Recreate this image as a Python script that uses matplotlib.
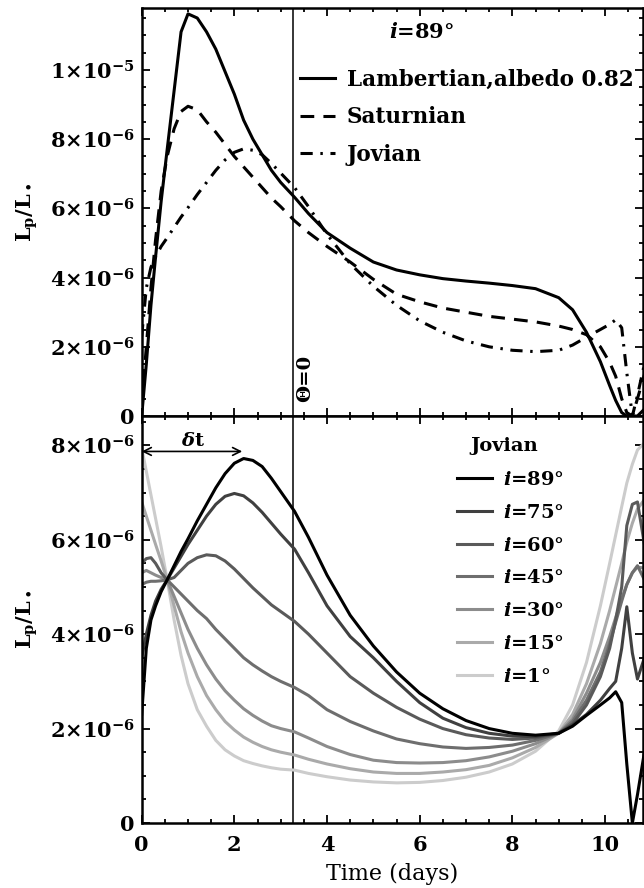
import matplotlib.pyplot as plt
from matplotlib.ticker import MultipleLocator, FixedLocator

plt.rcParams['font.family'] = 'DejaVu Serif'
plt.rcParams['font.weight'] = 'bold'
plt.rcParams['mathtext.fontset'] = 'dejavuserif'

# time grid (days), values in units of 1e-6 L_p/L_*
t = [0, 0.1, 0.2, 0.3, 0.42, 0.55, 0.7, 0.85, 1.0, 1.2, 1.4, 1.6, 1.8, 2.0, 2.2, 2.4,
     2.6, 2.8, 3.0, 3.3, 3.6, 4.0, 4.5, 5.0, 5.5, 6.0, 6.5, 7.0, 7.5, 8.0, 8.5, 9.0,
     9.3, 9.6, 9.9, 10.1, 10.23, 10.36, 10.47, 10.59, 10.7, 10.85]

lambert = [0.0, 1.5, 3.2, 4.6, 6.2, 7.7, 9.4, 11.1, 11.62, 11.5, 11.1, 10.6, 9.95, 9.3, 8.55, 8.0,
           7.55, 7.1, 6.75, 6.32, 5.85, 5.3, 4.85, 4.45, 4.22, 4.08, 3.97, 3.9, 3.84, 3.77, 3.68, 3.42,
           3.07, 2.42, 1.57, 0.88, 0.45, 0.1, 0.0, 0.0, 0.0, 0.2]
saturn = [0.3, 2.0, 3.7, 5.1, 6.5, 7.5, 8.3, 8.8, 8.95, 8.85, 8.5, 8.2, 7.85, 7.5, 7.2, 6.9,
          6.6, 6.3, 6.05, 5.64, 5.3, 4.9, 4.45, 3.95, 3.52, 3.3, 3.12, 3.0, 2.88, 2.8, 2.72, 2.6,
          2.5, 2.35, 2.0, 1.55, 1.15, 0.5, 0.1, 0.0, 0.5, 1.2]

# Jovian phase function, several inclinations
jov89 = [2.3, 3.7, 4.3, 4.6, 4.9, 5.15, 5.45, 5.75, 6.02, 6.4, 6.75, 7.1, 7.4, 7.62, 7.72, 7.68,
         7.55, 7.3, 7.02, 6.6, 6.05, 5.25, 4.4, 3.75, 3.2, 2.75, 2.42, 2.17, 2.0, 1.9, 1.86, 1.9,
         2.05, 2.28, 2.5, 2.65, 2.78, 2.55, 1.25, 0.0, 0.6, 1.5]
jov75 = [3.5, 4.0, 4.4, 4.7, 4.95, 5.15, 5.4, 5.65, 5.9, 6.2, 6.5, 6.75, 6.92, 6.98, 6.93, 6.78,
         6.58, 6.35, 6.12, 5.8, 5.3, 4.6, 3.95, 3.5, 3.0, 2.55, 2.22, 2.02, 1.9, 1.84, 1.83, 1.9,
         2.08, 2.3, 2.6, 2.85, 3.0, 3.7, 4.58, 3.6, 3.05, 3.5]
jov60 = [5.5, 5.6, 5.62, 5.5, 5.3, 5.15, 5.2, 5.35, 5.5, 5.62, 5.68, 5.66, 5.55, 5.38, 5.18, 4.98,
         4.8, 4.62, 4.48, 4.27, 4.0, 3.6, 3.1, 2.75, 2.45, 2.2, 2.0, 1.87, 1.8, 1.77, 1.8, 1.9,
         2.1, 2.5, 3.1, 3.7, 4.3, 5.0, 6.3, 6.75, 6.8, 5.9]
jov45 = [5.05, 5.1, 5.12, 5.12, 5.13, 5.15, 5.0, 4.85, 4.7, 4.5, 4.33, 4.1, 3.9, 3.7, 3.5, 3.35,
         3.22, 3.1, 3.0, 2.87, 2.7, 2.4, 2.15, 1.95, 1.78, 1.68, 1.61, 1.58, 1.6, 1.65, 1.75, 1.9,
         2.15, 2.6, 3.2, 3.8, 4.25, 4.7, 5.05, 5.3, 5.45, 5.15]
jov30 = [5.3, 5.35, 5.3, 5.25, 5.2, 5.15, 4.8, 4.45, 4.1, 3.7, 3.35, 3.05, 2.8, 2.6, 2.42, 2.28,
         2.16, 2.06, 2.0, 1.93, 1.8, 1.62, 1.45, 1.33, 1.28, 1.27, 1.28, 1.32, 1.4, 1.52, 1.68, 1.9,
         2.2, 2.75, 3.4, 3.95, 4.35, 4.75, 5.05, 5.3, 5.42, 5.4]
jov15 = [6.8, 6.5, 6.2, 5.9, 5.55, 5.15, 4.6, 4.05, 3.6, 3.1, 2.7, 2.4, 2.15, 1.97, 1.82, 1.71,
         1.62, 1.55, 1.5, 1.44, 1.35, 1.25, 1.15, 1.08, 1.05, 1.05, 1.08, 1.13, 1.22, 1.38, 1.6, 1.9,
         2.3, 2.95, 3.8, 4.5, 5.0, 5.5, 5.95, 6.35, 6.65, 6.85]
jov1 = [7.95, 7.45, 6.95, 6.45, 5.85, 5.15, 4.3, 3.55, 2.95, 2.4, 2.05, 1.75, 1.55, 1.42, 1.32, 1.26,
        1.21, 1.17, 1.14, 1.12, 1.05, 0.98, 0.91, 0.87, 0.85, 0.86, 0.9, 0.97, 1.08, 1.25, 1.52, 1.95,
        2.5, 3.4, 4.6, 5.5, 6.1, 6.7, 7.2, 7.6, 7.9, 8.05]

jov_curves = [jov89, jov75, jov60, jov45, jov30, jov15, jov1]
jov_labels = ['89', '75', '60', '45', '30', '15', '1']
greys = ['#000000', '#404040', '#5a5a5a', '#6e6e6e', '#8c8c8c', '#aaaaaa', '#cccccc']

theta0 = 3.27   # time of theta=0
dt_peak = 2.17  # time of Jovian i=89 maximum

fig = plt.figure(figsize=(6.44, 8.88), dpi=100)
ax1 = fig.add_axes([0.22, 0.5315, 0.7792, 0.4595])
ax2 = fig.add_axes([0.22, 0.0732, 0.7792, 0.4583])

def style(ax):
    ax.set_xlim(0, 10.83)
    ax.xaxis.set_major_locator(MultipleLocator(2))
    ax.xaxis.set_minor_locator(MultipleLocator(0.5))
    ax.yaxis.set_minor_locator(MultipleLocator(0.5))
    ax.tick_params(which='both', direction='in', top=True, right=True, width=1.3, labelsize=15)
    ax.tick_params(which='major', length=6)
    ax.tick_params(which='minor', length=3)
    ax.tick_params(axis='x', pad=9)
    ax.tick_params(axis='y', pad=5)
    for s in ax.spines.values():
        s.set_linewidth(1.8)
    ax.set_ylabel(r'$\mathbf{L_p/L_\bullet}$', fontsize=15, labelpad=7)
    ax.axvline(theta0, color='black', lw=1.1)

# top panel
style(ax1)
ax1.plot(t, lambert, color='black', lw=2.2, label='Lambertian,albedo 0.82')
ax1.plot(t, saturn, color='black', lw=2.2, linestyle=(0, (4.5, 3)), label='Saturnian')
ax1.plot(t, jov89, color='black', lw=2.2, linestyle=(0, (4, 2.5, 0.8, 2.5)), label='Jovian')
ax1.set_ylim(0, 11.79)
ax1.yaxis.set_major_locator(FixedLocator([0, 2, 4, 6, 8, 10]))
ax1.set_yticklabels(['0', r'$\mathbf{2{\times}10^{-6}}$', r'$\mathbf{4{\times}10^{-6}}$',
                     r'$\mathbf{6{\times}10^{-6}}$', r'$\mathbf{8{\times}10^{-6}}$',
                     r'$\mathbf{1{\times}10^{-5}}$'])
ax1.set_xticklabels([])
ax1.text(6.03, 11.1, r'$i$=89°', fontsize=15, ha='center', va='center')
ax1.text(theta0 + 0.07, 1.1, 'Θ=0', rotation=90, fontsize=14, ha='left', va='center')
ax1.legend(loc='upper left', bbox_to_anchor=(0.3155, 0.851), frameon=False, fontsize=15.5,
           handlelength=1.63, handletextpad=0.54, labelspacing=0.72, borderpad=0, borderaxespad=0)

# bottom panel
style(ax2)
for vals, lab, c in list(zip(jov_curves, jov_labels, greys))[::-1]:
    ax2.plot(t, vals, color=c, lw=2.2, label=r'$i$=' + lab + '°')
ax2.set_ylim(0, 8.62)
ax2.yaxis.set_major_locator(FixedLocator([0, 2, 4, 6, 8]))
ax2.set_yticklabels(['0', r'$\mathbf{2{\times}10^{-6}}$', r'$\mathbf{4{\times}10^{-6}}$',
                     r'$\mathbf{6{\times}10^{-6}}$', r'$\mathbf{8{\times}10^{-6}}$'])
ax2.set_xlabel('Time (days)', fontsize=16, labelpad=5)
ax2.annotate('', xy=(dt_peak, 7.87), xytext=(0, 7.87),
             arrowprops=dict(arrowstyle='<->', lw=1.2, mutation_scale=14, shrinkA=0, shrinkB=0))
ax2.text(1.1, 8.1, r'$\delta$t', fontsize=14, ha='center', va='center')
ax2.text(7.82, 7.99, 'Jovian', fontsize=14, ha='center', va='center')
h, l = ax2.get_legend_handles_labels()
ax2.legend(h[::-1], l[::-1], loc='upper left', bbox_to_anchor=(0.628, 0.865), frameon=False,
           fontsize=14, handlelength=1.8, handletextpad=0.6, labelspacing=0.76, borderpad=0,
           borderaxespad=0)

fig.savefig('out.png', dpi=100)
